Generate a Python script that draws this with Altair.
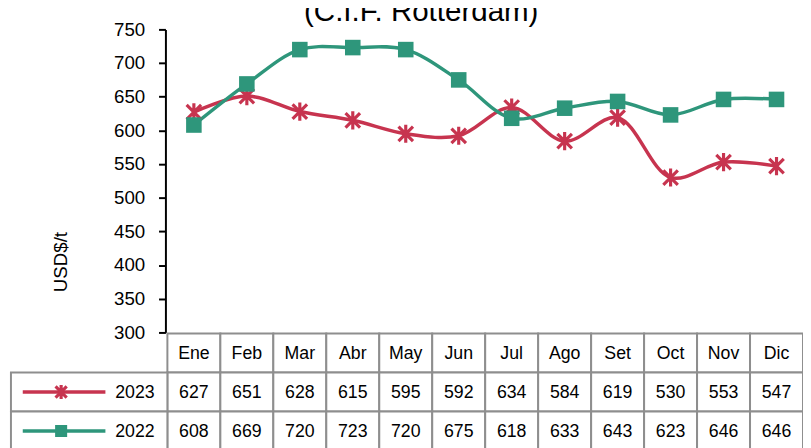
import altair as alt
import pandas as pd

# ---------------- data ----------------
months = ["Ene", "Feb", "Mar", "Abr", "May", "Jun", "Jul", "Ago", "Set", "Oct", "Nov", "Dic"]
v2023 = [627, 651, 628, 615, 595, 592, 634, 584, 619, 530, 553, 547]
v2022 = [608, 669, 720, 723, 720, 675, 618, 633, 643, 623, 646, 646]
series = ["2023", "2022"]
colors = ["#C7344F", "#2E967B"]
title_text = "(C.I.F. Rotterdam)"
y_title = "USD$/t"
y_ticks = [300, 350, 400, 450, 500, 550, 600, 650, 700, 750]
rows = ["hdr", "2023", "2022"]

FONT = "Liberation Sans"
GRID = "#8E8E8E"

long = pd.DataFrame({
    "mes": months * 2,
    "serie": ["2023"] * 12 + ["2022"] * 12,
    "valor": v2023 + v2022,
})

table = pd.DataFrame({
    "mes": months * 3,
    "fila": ["hdr"] * 12 + ["2023"] * 12 + ["2022"] * 12,
    "texto": months + [str(v) for v in v2023] + [str(v) for v in v2022],
})

legend_df = pd.DataFrame({"fila": series, "serie": series})

xscale = alt.Scale(type="band", domain=months, paddingInner=0, paddingOuter=0)
x_mid = alt.X("mes:N", scale=xscale, axis=None, bandPosition=0.5)
x_band = alt.X("mes:N", scale=xscale, axis=None)

yscale = alt.Scale(domain=[300, 750], nice=False, zero=False)
color = alt.Color("serie:N", scale=alt.Scale(domain=series, range=colors), legend=None)

y_axis = alt.Axis(
    values=y_ticks, grid=False, domainColor="black", domainWidth=2,
    tickColor="black", tickWidth=2, tickSize=7, offset=2,
    labelFont=FONT, labelFontSize=19, labelColor="black", labelPadding=14,
    title=y_title, titleFont=FONT, titleFontSize=19, titleFontWeight="normal",
    titleColor="black", titleAngle=270, titleX=-107, titleY=236,
    titleAlign="center", titleBaseline="middle",
)

# ---------------- table (drawn first) ----------------
rscale = alt.Scale(type="band", domain=rows, range=[309, 428], paddingInner=0, paddingOuter=0)
y_row = alt.Y("fila:N", scale=rscale, axis=None)
y_row_mid = alt.Y("fila:N", scale=rscale, axis=None, bandPosition=0.5)

cells = alt.Chart(table).mark_rect(fill="white", stroke=GRID, strokeWidth=2).encode(
    x=x_band, y=y_row
)
cell_text = alt.Chart(table).mark_text(
    font=FONT, fontSize=18, color="black", align="center", baseline="middle", dy=1
).encode(x=x_mid, y=y_row_mid, text="texto:N")

leg_cells = alt.Chart(legend_df).mark_rect(fill="white", stroke=GRID, strokeWidth=2).encode(
    x=alt.value(-159), x2=alt.value(0), y=y_row
)
leg_lines = alt.Chart(legend_df).mark_rule(strokeWidth=3.5).encode(
    x=alt.value(-147), x2=alt.value(-63), y=y_row_mid,
    color=alt.Color("serie:N", scale=alt.Scale(domain=series, range=colors), legend=None),
)
asterisk = "M-0.8,-0.8L0.8,0.8M-0.8,0.8L0.8,-0.8M0,-1L0,1"

leg_pt23 = alt.Chart(legend_df[legend_df.serie == "2023"]).mark_point(
    shape=asterisk, filled=False, size=200, strokeWidth=3.2, color=colors[0], opacity=1
).encode(x=alt.value(-108), y=y_row_mid)
leg_pt22 = alt.Chart(legend_df[legend_df.serie == "2022"]).mark_point(
    shape="square", filled=True, size=150, color=colors[1], opacity=1
).encode(x=alt.value(-108), y=y_row_mid)
leg_text = alt.Chart(legend_df).mark_text(
    font=FONT, fontSize=18, color="black", align="right", baseline="middle", dy=1
).encode(x=alt.value(-13), y=y_row_mid, text="serie:N")

# ---------------- series ----------------
lines = alt.Chart(long).mark_line(interpolate="catmull-rom", strokeWidth=3.5).encode(
    x=x_mid,
    y=alt.Y("valor:Q", scale=yscale, axis=y_axis),
    color=color,
    order=alt.Order("serie:N"),
)

pts23 = alt.Chart(long[long.serie == "2023"]).mark_point(
    shape=asterisk, filled=False, size=340, strokeWidth=3.2, color=colors[0], opacity=1
).encode(x=x_mid, y=alt.Y("valor:Q", scale=yscale, axis=None))

pts22 = alt.Chart(long[long.serie == "2022"]).mark_point(
    shape="square", filled=True, size=250, color=colors[1], opacity=1
).encode(x=x_mid, y=alt.Y("valor:Q", scale=yscale, axis=None))

title = alt.Chart(pd.DataFrame({"t": [title_text]})).mark_text(
    font=FONT, fontSize=30, color="black", align="center", baseline="alphabetic"
).encode(x=alt.value(258), y=alt.value(-9), text="t:N")

chart = alt.layer(
    lines, pts23, pts22,
    cells, cell_text, leg_cells, leg_lines, leg_pt23, leg_pt22, leg_text,
    title,
).resolve_scale(y="independent").properties(
    width=646,
    height=308,
    padding={"left": 162, "top": 18, "right": 0, "bottom": 132},
    autosize=alt.AutoSizeParams(type="none"),
).configure_view(stroke=None)

chart.save("out.html", embed_options={"renderer": "svg", "actions": False})
